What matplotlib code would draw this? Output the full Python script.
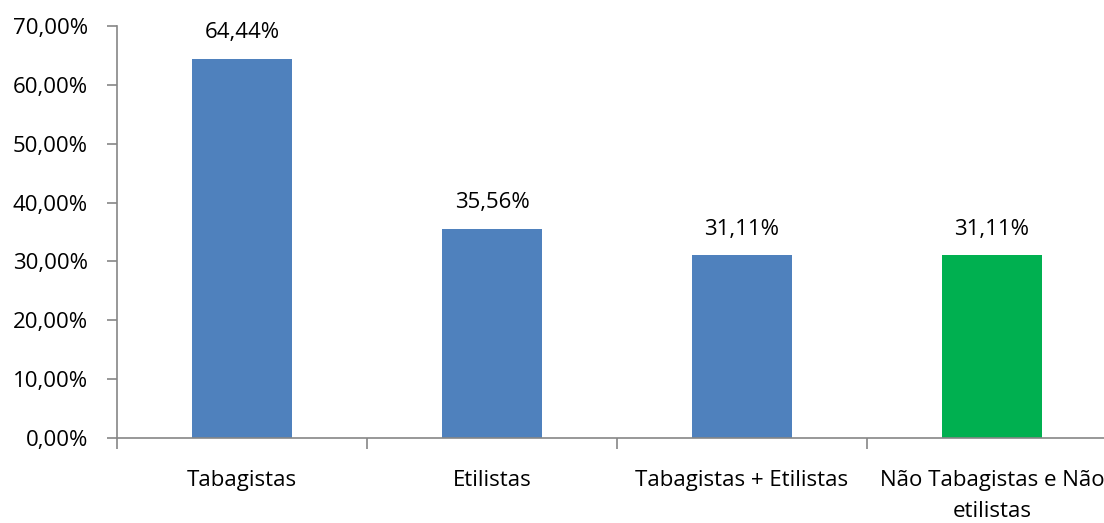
import matplotlib.pyplot as plt
from matplotlib.ticker import FuncFormatter, FixedLocator

# dados
categorias = ['Tabagistas', 'Etilistas', 'Tabagistas + Etilistas', 'Não Tabagistas e Não\netilistas']
valores = [64.44, 35.56, 31.11, 31.11]
cores = ['#4F81BD', '#4F81BD', '#4F81BD', '#00B050']

plt.rcParams['font.family'] = ['Open Sans', 'DejaVu Sans']
plt.rcParams['font.size'] = 16

fig = plt.figure(figsize=(11.04, 5.23), dpi=100)
ax = fig.add_axes([117 / 1104, 85 / 523, 1000 / 1104, 412 / 523])

x = range(len(categorias))
barras = ax.bar(x, valores, width=0.4, color=cores)

for xi, v in zip(x, valores):
    ax.annotate(f'{v:.2f}%'.replace('.', ','), (xi, v), xytext=(0, 11),
                textcoords='offset points', ha='center', va='bottom', fontsize=16)

ax.set_xlim(-0.5, 3.5)
ax.set_ylim(0, 70)
ax.set_yticks(range(0, 71, 10))
ax.yaxis.set_major_formatter(FuncFormatter(lambda v, p: f'{v:.2f}%'.replace('.', ',')))

ax.set_xticks(list(x))
ax.set_xticklabels(categorias, linespacing=1.6)
ax.xaxis.set_minor_locator(FixedLocator([-0.5, 0.5, 1.5, 2.5, 3.5]))
ax.tick_params(axis='x', which='major', length=0, pad=23)
ax.tick_params(axis='x', which='minor', length=8, color='#868686', width=1.2)
ax.tick_params(axis='y', length=7, color='#868686', width=1.2, pad=14)

for s in ['top', 'right']:
    ax.spines[s].set_visible(False)
for s in ['left', 'bottom']:
    ax.spines[s].set_color('#868686')
    ax.spines[s].set_linewidth(1.2)

fig.savefig('out.png', dpi=100)
